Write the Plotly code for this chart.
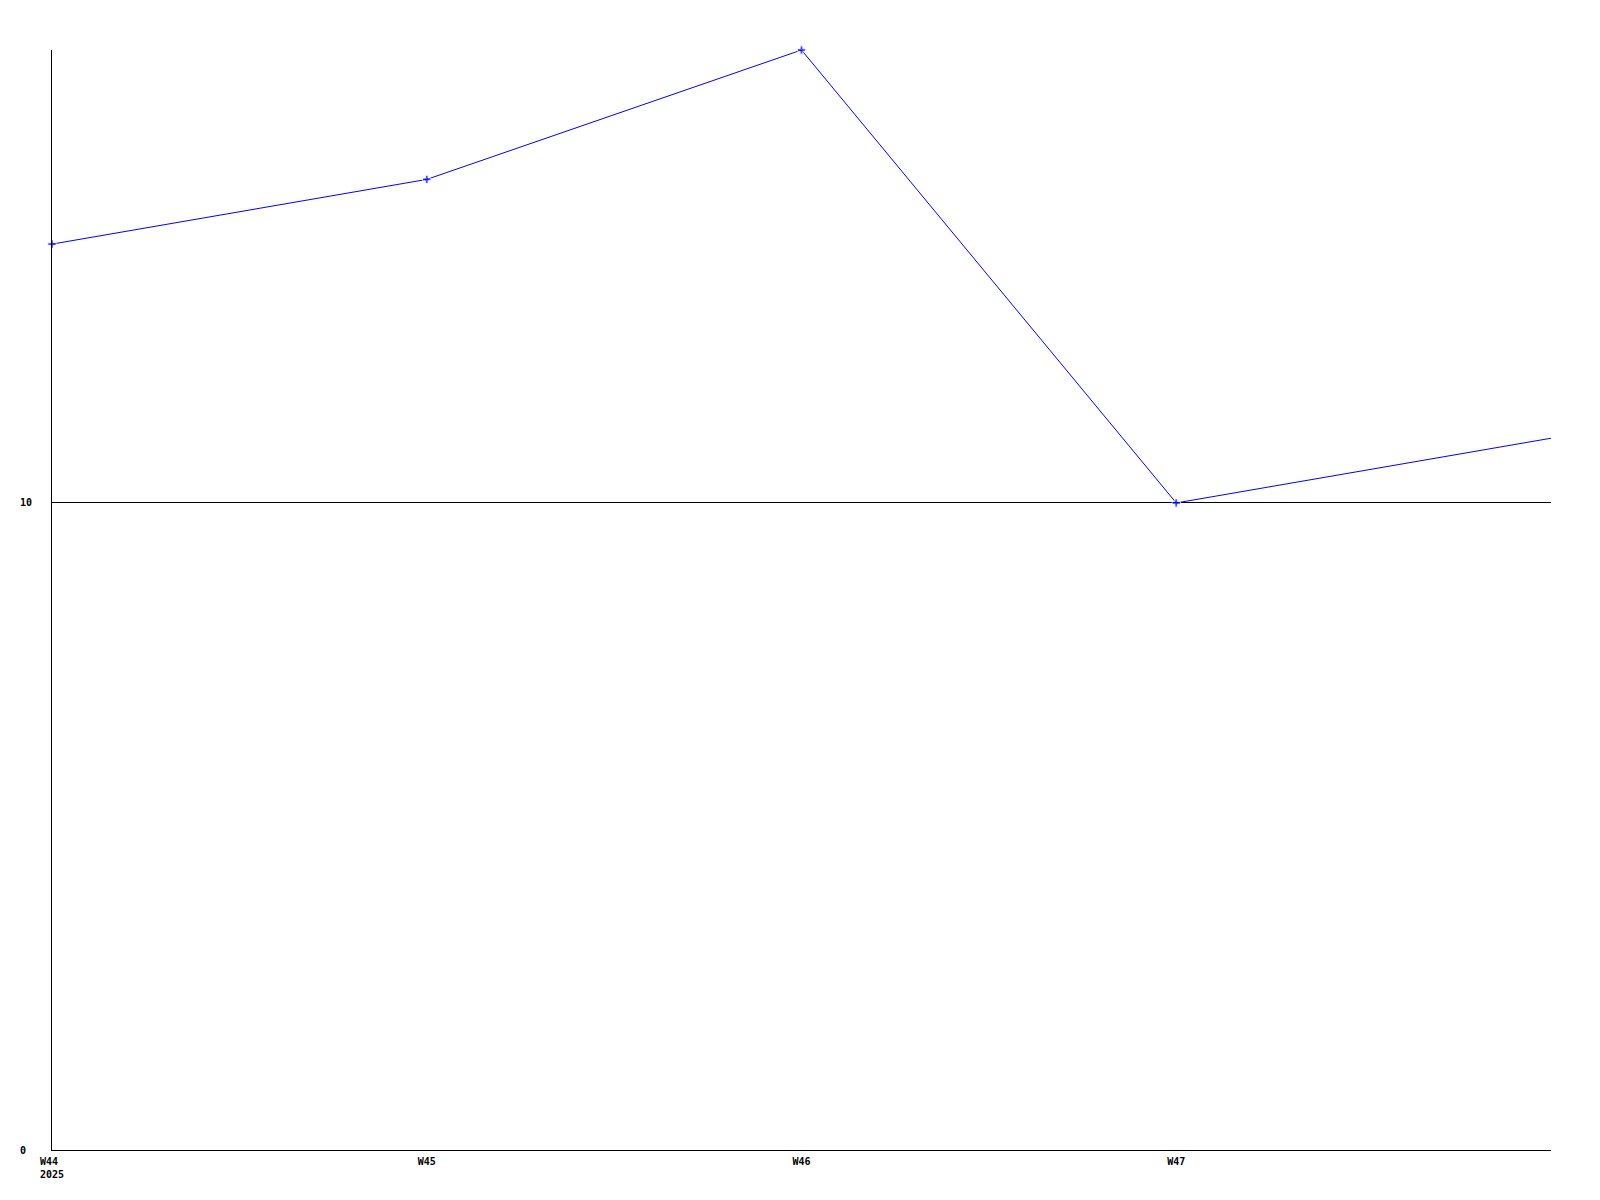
import plotly.graph_objects as go

AZUL = "#0000FF"

semanas = ["W44", "W45", "W46", "W47", "W48"]
valores = [14, 15, 17, 10, 11]
tick_semanas = ["W44", "W45", "W46", "W47"]
tick_textos = ["W44\u00a0<br>2025", "W45", "W46", "W47"]
tick_y = [0, 10]
tick_y_textos = ["0\u00a0", "10"]

fig = go.Figure()

fig.add_trace(
    go.Scatter(
        x=semanas,
        y=valores,
        mode="lines+markers",
        line=dict(color=AZUL, width=1),
        marker=dict(symbol="cross", size=[7, 7, 7, 7, 0], color=AZUL),
        cliponaxis=False,
        showlegend=False,
    )
)

# a página tem 8px de margem no body, por isso compensa-se aqui
fig.update_layout(
    width=1600,
    height=1200,
    margin=dict(l=42, r=57, t=42, b=58),
    paper_bgcolor="white",
    plot_bgcolor="white",
    font=dict(family="DejaVu Sans Mono", size=10, color="black", weight="bold"),
    xaxis=dict(
        type="category",
        range=[0, 4],
        tickvals=tick_semanas,
        ticktext=tick_textos,
        showgrid=False,
        zeroline=False,
        showline=True,
        linecolor="black",
        linewidth=1,
        ticks="",
        ticklabelstandoff=2,
    ),
    yaxis=dict(
        range=[0, 17],
        tickvals=tick_y,
        ticktext=tick_y_textos,
        showgrid=True,
        gridcolor="black",
        gridwidth=1,
        zeroline=False,
        showline=True,
        linecolor="black",
        linewidth=1,
        ticks="",
        ticklabelstandoff=17,
    ),
)

fig.write_html("out.html")
